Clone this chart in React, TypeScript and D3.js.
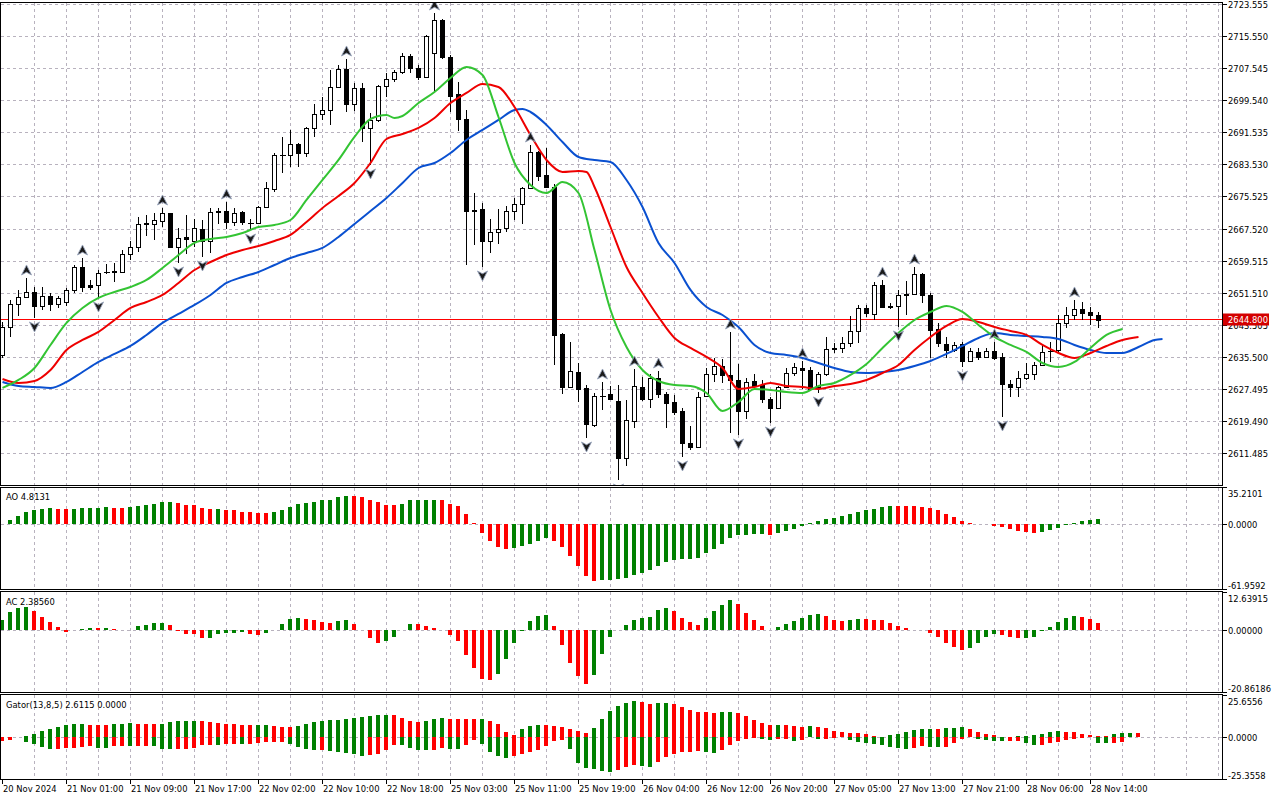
import React from "react"
import * as d3 from "d3"

// ---- price data (H1 bars) ----
const openP = [
  2636.05, 2643.05, 2648.79, 2650.54, 2651.79, 2648.29, 2650.79, 2648.79, 2649.29, 2652.29,
  2658.03, 2653.54, 2653.54, 2656.78, 2657.03, 2656.78, 2661.28, 2663.03, 2668.77, 2668.77,
  2669.52, 2671.52, 2663.03, 2665.53, 2664.53, 2667.52, 2664.53, 2671.77, 2672.02, 2669.27,
  2671.77, 2669.02, 2669.02, 2673.02, 2677.52, 2686.02, 2686.02, 2688.76, 2686.52, 2692.76,
  2696.26, 2697.26, 2703.0, 2707.5, 2698.76, 2702.75, 2692.76, 2694.76, 2703.25, 2705.0,
  2706.75, 2710.74, 2707.75, 2705.5, 2711.49, 2719.73, 2710.49, 2701.25, 2695.0, 2672.27,
  2672.52, 2664.53, 2666.77, 2667.77, 2672.02, 2673.77, 2677.77, 2686.77, 2681.02, 2678.02,
  2641.3, 2628.05, 2631.8, 2627.8, 2618.56, 2625.81, 2626.3, 2624.56, 2610.32, 2619.56,
  2628.05, 2625.06, 2630.3, 2626.3, 2624.31, 2622.06, 2614.06, 2613.07, 2625.81, 2631.3,
  2633.3, 2631.05, 2629.8, 2622.06, 2629.55, 2628.55, 2625.06, 2622.81, 2628.05, 2631.55,
  2632.8, 2632.3, 2628.05, 2631.3, 2637.55, 2637.8, 2639.05, 2642.05, 2647.79, 2646.29,
  2653.54, 2648.29, 2648.29, 2651.04, 2651.29, 2656.28, 2651.04, 2642.55, 2638.8, 2637.3,
  2638.8, 2634.55, 2636.8, 2635.55, 2637.05, 2635.55, 2628.8, 2628.05, 2630.3, 2631.3,
  2633.55, 2637.0, 2637.3, 2644.05, 2646.04, 2647.54, 2646.79, 2646.04,
]
const highP = [
  2644.3, 2649.79, 2652.29, 2655.29, 2653.04, 2653.04, 2651.54, 2650.79, 2652.79, 2658.53,
  2660.28, 2654.79, 2657.28, 2658.78, 2659.03, 2662.28, 2664.53, 2670.52, 2671.02, 2671.52,
  2672.77, 2671.6, 2667.77, 2671.02, 2670.02, 2669.77, 2672.77, 2672.77, 2674.27, 2672.77,
  2672.02, 2670.02, 2673.27, 2679.27, 2686.52, 2690.51, 2692.26, 2689.01, 2693.01, 2698.76,
  2700.5, 2707.25, 2708.5, 2710.0, 2704.0, 2704.0, 2696.5, 2703.5, 2706.5, 2707.25,
  2711.49, 2711.3, 2708.5, 2715.99, 2721.48, 2719.98, 2710.99, 2704.25, 2697.26, 2676.52,
  2674.02, 2670.02, 2672.52, 2673.27, 2675.27, 2678.02, 2688.51, 2686.9, 2687.76, 2678.77,
  2641.55, 2639.3, 2634.05, 2628.55, 2626.56, 2629.3, 2628.3, 2628.55, 2624.81, 2632.55,
  2630.55, 2631.3, 2632.05, 2626.81, 2626.05, 2622.81, 2618.31, 2626.81, 2632.8, 2635.3,
  2635.05, 2641.8, 2633.8, 2630.3, 2631.3, 2629.8, 2625.56, 2628.3, 2632.8, 2634.05,
  2634.55, 2633.05, 2631.8, 2640.55, 2639.05, 2640.55, 2645.79, 2648.54, 2648.6, 2654.29,
  2654.79, 2649.04, 2652.29, 2654.54, 2658.03, 2656.53, 2651.54, 2644.05, 2640.55, 2639.3,
  2639.3, 2637.8, 2637.8, 2637.8, 2639.3, 2636.55, 2629.8, 2632.05, 2634.05, 2634.3,
  2638.55, 2639.3, 2646.04, 2648.04, 2649.79, 2649.29, 2648.04, 2646.79,
]
const lowP = [
  2635.3, 2640.55, 2645.79, 2650.29, 2645.29, 2647.29, 2647.04, 2647.79, 2648.29, 2651.54,
  2651.79, 2652.29, 2650.29, 2656.3, 2654.29, 2656.53, 2659.78, 2661.78, 2665.78, 2664.78,
  2668.02, 2662.78, 2659.03, 2661.28, 2663.03, 2660.53, 2661.53, 2668.77, 2667.52, 2668.27,
  2668.52, 2667.27, 2668.77, 2672.77, 2676.77, 2681.52, 2683.02, 2683.02, 2685.52, 2690.51,
  2694.76, 2693.51, 2702.75, 2696.76, 2697.0, 2689.26, 2683.52, 2694.26, 2700.5, 2704.25,
  2706.25, 2706.5, 2704.75, 2705.4, 2701.75, 2709.99, 2696.76, 2692.0, 2658.53, 2663.53,
  2658.03, 2661.53, 2663.78, 2666.77, 2669.77, 2668.77, 2677.52, 2679.52, 2677.77, 2633.55,
  2626.3, 2627.8, 2624.31, 2615.31, 2618.06, 2622.31, 2625.0, 2604.82, 2608.32, 2617.81,
  2624.56, 2622.81, 2625.31, 2617.81, 2621.06, 2610.57, 2612.32, 2612.82, 2625.5, 2629.3,
  2629.05, 2616.56, 2616.06, 2620.06, 2628.05, 2624.06, 2619.06, 2622.56, 2627.8, 2630.8,
  2627.55, 2627.3, 2626.56, 2630.8, 2636.55, 2636.6, 2638.05, 2639.05, 2645.54, 2644.79,
  2647.79, 2647.6, 2643.05, 2646.04, 2651.0, 2649.04, 2635.3, 2638.05, 2635.3, 2636.8,
  2633.05, 2634.3, 2634.8, 2635.3, 2634.8, 2620.56, 2625.56, 2625.6, 2629.8, 2629.8,
  2633.3, 2634.3, 2636.8, 2642.8, 2644.8, 2644.79, 2643.55, 2642.8,
]
const closeP = [
  2643.05, 2648.79, 2650.54, 2651.79, 2648.29, 2650.79, 2648.79, 2650.29, 2652.29, 2658.03,
  2653.04, 2653.04, 2656.53, 2656.8, 2656.78, 2661.28, 2663.03, 2668.77, 2668.9, 2669.77,
  2671.52, 2663.03, 2665.28, 2665.03, 2667.77, 2664.53, 2671.77, 2672.02, 2669.27, 2671.52,
  2669.27, 2669.1, 2673.02, 2677.77, 2686.02, 2686.1, 2688.76, 2686.52, 2692.76, 2696.26,
  2697.26, 2703.0, 2707.5, 2698.76, 2702.75, 2692.76, 2694.76, 2703.25, 2705.0, 2706.75,
  2710.74, 2707.75, 2705.5, 2715.74, 2719.73, 2710.49, 2700.75, 2695.0, 2672.02, 2672.1,
  2664.53, 2666.77, 2667.52, 2672.02, 2673.77, 2677.77, 2686.77, 2680.77, 2678.02, 2641.05,
  2628.05, 2632.05, 2627.55, 2618.81, 2625.81, 2625.7, 2625.06, 2610.32, 2619.81, 2628.3,
  2625.06, 2630.3, 2626.3, 2624.06, 2621.81, 2614.06, 2613.07, 2625.56, 2631.3, 2633.3,
  2631.05, 2629.8, 2622.06, 2629.3, 2628.3, 2625.06, 2622.81, 2628.05, 2631.55, 2633.05,
  2632.3, 2627.55, 2631.3, 2637.55, 2637.8, 2639.05, 2642.05, 2647.79, 2646.54, 2653.54,
  2648.04, 2648.1, 2651.04, 2651.29, 2656.28, 2651.04, 2642.3, 2639.05, 2637.3, 2638.55,
  2634.55, 2637.05, 2635.55, 2637.05, 2635.3, 2628.8, 2628.05, 2630.3, 2631.3, 2633.55,
  2636.8, 2637.1, 2644.05, 2646.04, 2647.54, 2646.54, 2646.04, 2644.8,
]

// ---- alligator lines: [bar index, price] (lines run past the last bar by their shift) ----
const lipsPoints: [number, number][] = [
  [0, 2627.81], [2, 2629.81], [4, 2632.8], [6, 2638.55], [8, 2644.05], [10, 2647.79], [12, 2650.29],
  [14, 2651.79], [16, 2653.04], [18, 2654.79], [20, 2657.78], [22, 2661.03], [24, 2664.03], [26, 2665.03],
  [28, 2665.53], [30, 2666.53], [32, 2668.02], [34, 2668.52], [36, 2669.77], [38, 2674.77], [40, 2679.77],
  [42, 2684.77], [44, 2690.51], [46, 2695.0], [48, 2696.0], [49, 2695.25], [50, 2695.75], [52, 2699.0],
  [54, 2701.75], [56, 2705.25], [58, 2708.0], [60, 2706.0], [62, 2695.5], [64, 2684.01], [66, 2678.52],
  [68, 2676.52], [70, 2679.27], [72, 2676.52], [74, 2662.28], [76, 2647.29], [78, 2638.05], [80, 2632.3],
  [82, 2629.55], [84, 2628.55], [86, 2628.3], [88, 2626.56], [90, 2622.06], [92, 2624.31], [94, 2627.55],
  [96, 2627.31], [98, 2626.81], [100, 2626.56], [102, 2628.3], [104, 2629.06], [106, 2631.05], [108, 2633.8],
  [110, 2637.8], [112, 2641.55], [114, 2644.79], [116, 2646.79], [118, 2648.29], [120, 2646.79], [122, 2643.55],
  [124, 2640.55], [126, 2638.55], [128, 2636.8], [130, 2634.05], [132, 2633.05], [134, 2634.3], [136, 2637.8],
  [138, 2641.05], [140, 2642.55],
]
const teethPoints: [number, number][] = [
  [0, 2630.06], [2, 2629.06], [4, 2629.56], [6, 2632.3], [8, 2637.3], [10, 2639.8], [12, 2641.8],
  [14, 2644.79], [16, 2647.79], [18, 2649.29], [20, 2651.04], [22, 2654.04], [24, 2657.28], [26, 2659.28],
  [28, 2661.03], [30, 2662.28], [32, 2663.28], [34, 2664.53], [36, 2666.03], [38, 2669.27], [40, 2672.77],
  [42, 2675.77], [44, 2679.02], [46, 2684.01], [48, 2690.01], [50, 2691.26], [52, 2692.76], [54, 2695.25],
  [56, 2699.0], [58, 2701.5], [60, 2703.75], [62, 2703.0], [64, 2698.0], [66, 2691.01], [68, 2684.76],
  [70, 2681.77], [72, 2682.02], [73, 2681.77], [74, 2678.02], [76, 2668.02], [78, 2658.03], [80, 2651.54],
  [82, 2645.54], [84, 2640.3], [86, 2637.8], [88, 2635.55], [90, 2632.8], [92, 2627.55], [94, 2628.06],
  [96, 2629.06], [98, 2628.3], [100, 2628.06], [102, 2627.55], [104, 2628.3], [106, 2628.8], [108, 2629.8],
  [110, 2631.55], [112, 2633.55], [114, 2637.3], [116, 2640.55], [118, 2643.3], [120, 2645.04], [122, 2644.29],
  [124, 2643.05], [126, 2642.05], [128, 2641.05], [130, 2638.55], [132, 2636.55], [134, 2635.3], [136, 2636.55],
  [138, 2638.3], [140, 2639.8], [142, 2640.55],
]
const jawPoints: [number, number][] = [
  [0, 2629.31], [2, 2628.3], [4, 2628.06], [6, 2627.81], [8, 2629.31], [10, 2631.8], [12, 2634.3],
  [14, 2636.3], [16, 2638.3], [18, 2641.05], [20, 2644.05], [22, 2646.29], [24, 2648.54], [26, 2651.04],
  [28, 2654.04], [30, 2655.53], [32, 2656.78], [34, 2658.53], [36, 2660.28], [38, 2661.53], [40, 2662.78],
  [42, 2665.53], [44, 2668.77], [46, 2672.02], [48, 2675.27], [50, 2679.02], [52, 2682.76], [54, 2684.01],
  [56, 2686.51], [58, 2689.76], [60, 2692.26], [62, 2694.76], [64, 2697.25], [65, 2697.5], [66, 2696.75],
  [68, 2693.51], [70, 2689.26], [72, 2685.52], [74, 2684.76], [76, 2684.26], [78, 2679.77], [80, 2673.02],
  [82, 2664.03], [84, 2659.03], [86, 2652.29], [88, 2648.04], [90, 2646.04], [92, 2643.05], [94, 2638.55],
  [96, 2636.55], [98, 2636.05], [100, 2635.3], [102, 2634.05], [104, 2632.8], [106, 2631.8], [108, 2631.55],
  [110, 2631.8], [112, 2632.3], [114, 2633.3], [116, 2634.55], [118, 2636.3], [120, 2638.3], [122, 2640.3],
  [124, 2641.55], [126, 2641.05], [128, 2640.8], [130, 2640.55], [132, 2640.05], [134, 2638.55], [136, 2637.3],
  [138, 2636.55], [140, 2636.55], [142, 2638.05], [144, 2639.8], [145, 2640.05],
]

// fractal bar indices
const upFractals = [3, 10, 20, 28, 43, 54, 66, 75, 79, 82, 91, 100, 110, 114, 124, 134]
const downFractals = [4, 12, 22, 25, 31, 46, 60, 73, 77, 85, 92, 96, 102, 112, 120, 125]

// ---- oscillators ----
const aoValues: (number | null)[] = [
  null, 4.15, 7.98, 11.81, 14.04, 15.0, 15.64, 14.68, 14.6, 15.0,
  15.64, 15.7, 15.95, 16.6, 15.64, 15.6, 16.27, 17.87, 18.5, 19.46,
  21.38, 21.45, 20.42, 18.5, 18.45, 15.64, 14.68, 14.72, 14.04, 13.4,
  12.12, 11.81, 11.17, 11.1, 12.12, 13.72, 16.59, 18.83, 20.1, 21.38,
  22.65, 23.29, 25.85, 26.8, 26.75, 25.85, 22.65, 21.4, 18.5, 18.45,
  19.46, 22.65, 22.7, 22.75, 22.8, 22.7, 19.46, 17.55, 9.89, 0.96,
  -7.98, -15.64, -21.38, -23.29, -22.34, -20.74, -18.51, -15.64, -13.08, -15.64,
  -21.7, -29.99, -39.57, -49.14, -53.92, -53.29, -52.97, -51.69, -51.05, -48.5,
  -46.27, -43.4, -39.57, -35.74, -33.82, -32.87, -32.8, -31.9, -27.44, -23.29,
  -18.51, -12.76, -10.21, -10.15, -8.93, -8.9, -10.21, -7.98, -6.06, -4.15,
  -1.6, 1.28, 3.19, 5.1, 6.06, 7.98, 9.89, 11.81, 13.72, 14.68,
  16.59, 17.55, 17.5, 17.45, 17.4, 16.59, 15.64, 13.72, 9.89, 7.02,
  3.19, 1.28, 0.32, 0.05, -1.28, -2.23, -4.15, -6.06, -7.02, -7.98,
  -7.02, -5.1, -3.19, -0.96, 0.96, 3.19, 4.15, 4.81,
]
const acValues = [
  3.5, 5.88, 7.23, 7.57, 6.33, 4.52, 2.6, 0.9, -0.56, 0.11,
  0.45, 0.79, 0.68, 0.79, 0.23, 0.11, 0.15, 1.47, 1.81, 2.49,
  2.52, 1.81, -0.23, -1.24, -1.47, -2.6, -2.55, -1.47, -1.13, -1.02,
  -0.79, -1.47, -1.81, -1.13, 0.02, 2.15, 3.84, 4.18, 3.73, 3.5,
  2.6, 2.26, 3.16, 3.2, 2.15, -0.11, -2.82, -4.18, -3.84, -2.49,
  -0.11, 2.15, 2.1, 1.47, 0.79, -0.11, -1.81, -3.62, -8.36, -12.66,
  -16.38, -16.72, -14.69, -9.6, -4.18, -0.45, 3.16, 4.86, 5.2, 1.47,
  -4.86, -10.96, -15.37, -18.08, -15.14, -7.91, -2.49, 0.11, 1.81, 3.5,
  4.18, 4.52, 6.55, 7.23, 6.21, 4.18, 2.6, 1.81, 4.18, 6.21,
  8.25, 9.94, 8.59, 5.54, 3.5, 1.47, -0.11, 1.13, 2.15, 3.16,
  4.18, 5.2, 5.25, 4.86, 3.5, 3.16, 3.2, 3.84, 3.8, 3.5,
  3.45, 2.49, 1.47, 0.68, 0.11, -0.11, -1.13, -2.49, -4.18, -5.54,
  -6.55, -5.88, -4.18, -2.49, -1.47, -1.81, -2.49, -2.82, -2.78, -2.49,
  -0.45, 1.13, 2.82, 4.18, 4.86, 4.52, 3.84, 2.39,
]
const gatorUpper = [
  0, 0, 0.2, 1.02, 2.25, 3.89, 5.11, 6.34, 7.77, 8.18,
  8.2, 7.57, 7.55, 7.5, 8.18, 8.2, 8.79, 8.18, 8.15, 8.1,
  8.2, 9.41, 10.02, 10.05, 10.1, 10.0, 9.41, 8.79, 8.18, 8.15,
  7.57, 7.55, 7.6, 7.65, 6.95, 6.34, 6.3, 6.95, 8.18, 9.41,
  10.02, 10.63, 10.7, 11.25, 11.86, 12.47, 13.09, 13.7, 13.75, 13.7,
  11.86, 10.02, 9.41, 10.02, 11.25, 11.86, 11.25, 11.2, 11.15, 11.1,
  11.15, 10.02, 8.18, 3.27, 1.64, 5.11, 6.95, 7.57, 7.5, 6.95,
  6.34, 5.11, 3.89, 2.66, 5.73, 11.25, 16.16, 19.2, 20.86, 21.75,
  21.68, 20.25, 21.06, 21.1, 20.45, 18.6, 16.77, 15.54, 15.5, 14.93,
  15.54, 15.6, 14.93, 13.09, 10.63, 8.79, 7.57, 7.6, 7.55, 6.95,
  6.34, 6.95, 6.34, 5.73, 3.89, 3.27, 2.66, 2.6, 2.04, 0.82,
  0.3, 1.43, 2.04, 3.27, 4.5, 5.11, 5.15, 5.1, 5.73, 5.78,
  6.34, 5.11, 3.27, 2.04, 1.43, 0.5, 0.2, 0.6, 1.0, 1.5,
  2.04, 3.27, 3.88, 3.27, 3.2, 2.04, 1.43, 1.0, 0.8, 2.04,
  2.62, 2.66, 2.61,
]
const gatorLower = [
  -2.25, -1.43, -0.2, -2.66, -4.29, -5.73, -6.95, -6.9, -6.34, -6.13,
  -6.1, -5.11, -6.34, -6.38, -5.11, -5.08, -5.15, -5.1, -5.05, -5.1,
  -6.95, -7.0, -6.95, -6.9, -6.34, -4.5, -4.45, -4.5, -3.89, -3.85,
  -3.9, -3.85, -3.27, -2.66, -2.6, -2.55, -3.89, -5.73, -6.95, -7.57,
  -7.5, -8.18, -8.79, -9.41, -10.02, -11.25, -10.63, -9.8, -7.57, -4.5,
  -4.55, -6.34, -7.57, -7.6, -7.55, -6.34, -6.95, -7.0, -4.5, -1.43,
  -3.89, -8.79, -11.25, -12.47, -11.25, -10.02, -8.79, -7.57, -5.11, -2.04,
  -1.43, -6.95, -15.54, -18.6, -19.2, -20.45, -20.86, -19.6, -17.9, -17.0,
  -17.4, -18.0, -14.93, -11.86, -10.02, -8.79, -8.7, -8.18, -8.79, -9.41,
  -7.57, -4.5, -2.04, -0.82, -0.4, -0.82, -1.43, -0.82, -0.8, -2.04,
  -1.43, -0.2, -0.82, -0.8, -0.4, -0.2, -1.43, -2.66, -3.27, -3.89,
  -4.5, -5.73, -6.34, -6.95, -6.34, -5.11, -5.73, -5.78, -5.7, -3.27,
  -0.82, -0.3, -0.82, -1.43, -2.04, -2.1, -2.04, -2.0, -3.27, -4.5,
  -4.45, -3.27, -2.66, -1.43, -0.82, -0.5, -0.3, -3.27, -3.3, -3.27,
  -2.66,
]

// ---- axis labels ----
const priceTicks = [
  "2723.555", "2715.550", "2707.545", "2699.540", "2691.535", "2683.530", "2675.525", "2667.520",
  "2659.515", "2651.510", "2643.505", "2635.500", "2627.495", "2619.490", "2611.485",
]
const timeLabels = [
  "20 Nov 2024", "21 Nov 01:00", "21 Nov 09:00", "21 Nov 17:00", "22 Nov 02:00", "22 Nov 10:00",
  "22 Nov 18:00", "25 Nov 03:00", "25 Nov 11:00", "25 Nov 19:00", "26 Nov 04:00", "26 Nov 12:00",
  "26 Nov 20:00", "27 Nov 05:00", "27 Nov 13:00", "27 Nov 21:00", "28 Nov 06:00", "28 Nov 14:00",
]
const timeLabelBars = [0, 8, 16, 24, 32, 40, 48, 56, 64, 72, 80, 88, 96, 104, 112, 120, 128, 136]
const aoTicks = ["35.2101", "0.0000", "-61.9592"]
const acTicks = ["12.63915", "0.00000", "-20.86186"]
const gatorTicks = ["25.6556", "0.0000", "-25.3558"]
const lastPrice = 2644.8

const FONT = "'DejaVu Sans', Verdana, sans-serif"
const GRID = "#b8b2be"
const GREEN = "#008000"
const RED = "#ff0000"
const PLOT_R = 1222.5

export default function App() {
  const xBar = d3.scaleLinear().domain([0, 1]).range([2.5, 10.5])
  const yMain = d3.scaleLinear().domain([2611.485, 2723.555]).range([453.3, 4.7])
  const yAO = d3.scaleLinear().domain([-61.9592, 35.2101]).range([589.3, 487.3])
  const yAC = d3.scaleLinear().domain([-20.86186, 12.63915]).range([692.3, 592.3])
  const yGator = d3.scaleLinear().domain([-25.3558, 25.6556]).range([779.3, 695.0])

  const panels = [
    { top: 2.5, bottom: 485.5 },
    { top: 487.5, bottom: 589.5 },
    { top: 591.5, bottom: 692.5 },
    { top: 694.5, bottom: 779.5 },
  ]
  const vGridBars = d3.range(4, 153, 4)
  const crisp = (v: number) => Math.round(v - 0.5) + 0.5
  const priceY = crisp(yMain(lastPrice))

  const lineGen = d3
    .line<[number, number]>()
    .x((d) => xBar(d[0]))
    .y((d) => yMain(d[1]))
    .curve(d3.curveMonotoneX)

  // histogram bars; colour by rising/falling value (or magnitude for the lower gator)
  const histogram = (
    vals: (number | null)[],
    y: d3.ScaleLinear<number, number>,
    key: string,
    byMagnitude: boolean,
    firstUp: boolean
  ) =>
    vals.map((v, i) => {
      if (v == null) return null
      const prev = i > 0 ? vals[i - 1] : null
      let up = firstUp
      if (prev != null) up = byMagnitude ? Math.abs(v) > Math.abs(prev) : v > prev
      const y0 = y(0)
      const y1 = y(v)
      const h = Math.abs(y1 - y0)
      if (h < 0.5) return null
      return (
        <rect
          key={`${key}-${i}`}
          x={xBar(i) - 2.5}
          y={Math.min(y0, y1)}
          width={4}
          height={h}
          fill={up ? GREEN : RED}
        />
      )
    })

  const arrowUp = "M0,-5 L5,5 L0,2.2 L-5,5 Z"
  const arrowDown = "M0,5 L5,-5 L0,-2.2 L-5,-5 Z"

  const axisText = { fontFamily: FONT, fontSize: 8.4, fill: "#000" }

  return (
    <div style={{ width: 1280, height: 800 }}>
      <style>{"body{margin:0;background:#fff}"}</style>
      <svg width={1280} height={800} style={{ display: "block" }}>
        <defs>
          <clipPath id="clipMain">
            <rect x={1} y={3} width={1221} height={482} />
          </clipPath>
        </defs>
        <rect width={1280} height={800} fill="#fff" />

        {/* grids */}
        <g stroke={GRID} strokeDasharray="3,3" strokeWidth={1} shapeRendering="crispEdges">
          {panels.map((p, pi) =>
            vGridBars
              .filter((b) => xBar(b) < PLOT_R)
              .map((b) => (
                <line key={`vg${pi}-${b}`} x1={xBar(b)} x2={xBar(b)} y1={p.top} y2={p.bottom} />
              ))
          )}
          {priceTicks.map((t) => (
            <line key={`hg${t}`} x1={1} x2={PLOT_R} y1={crisp(yMain(+t))} y2={crisp(yMain(+t))} />
          ))}
          <line x1={1} x2={PLOT_R} y1={crisp(yAO(0))} y2={crisp(yAO(0))} />
          <line x1={1} x2={PLOT_R} y1={crisp(yAC(0))} y2={crisp(yAC(0))} />
          <line x1={1} x2={PLOT_R} y1={crisp(yGator(0))} y2={crisp(yGator(0))} />
        </g>

        {/* current price line */}
        <line x1={1} x2={PLOT_R} y1={priceY} y2={priceY} stroke="#ff0000" strokeWidth={1} />

        {/* main panel */}
        <g clipPath="url(#clipMain)">
          <g shapeRendering="crispEdges">
            {openP.map((o, i) => {
              const c = closeP[i]
              const cx = xBar(i)
              const yo = Math.round(yMain(o))
              const yc = Math.round(yMain(c))
              const bull = c >= o
              const top = Math.min(yo, yc)
              const h = Math.abs(yo - yc)
              return (
                <g key={`c${i}`}>
                  <line
                    x1={cx}
                    x2={cx}
                    y1={Math.round(yMain(highP[i]))}
                    y2={Math.round(yMain(lowP[i]))}
                    stroke="#000"
                  />
                  {h < 1 ? (
                    <line x1={cx - 3} x2={cx + 3} y1={top + 0.5} y2={top + 0.5} stroke="#000" />
                  ) : (
                    <rect
                      x={cx - 2}
                      y={top + 0.5}
                      width={4}
                      height={h}
                      fill={bull ? "#fff" : "#000"}
                      stroke="#000"
                    />
                  )}
                </g>
              )
            })}
          </g>
          <path d={lineGen(jawPoints) || ""} fill="none" stroke="#0a50d0" strokeWidth={2} />
          <path d={lineGen(teethPoints) || ""} fill="none" stroke="#ee0000" strokeWidth={2} />
          <path d={lineGen(lipsPoints) || ""} fill="none" stroke="#33c433" strokeWidth={2} />
          {upFractals.map((b) => (
            <path
              key={`fu${b}`}
              d={arrowUp}
              transform={`translate(${xBar(b)},${yMain(highP[b]) - 8})`}
              fill="#1a1a1a"
              stroke="#9aa6bd"
              strokeWidth={0.9}
            />
          ))}
          {downFractals.map((b) => (
            <path
              key={`fd${b}`}
              d={arrowDown}
              transform={`translate(${xBar(b)},${yMain(lowP[b]) + 9})`}
              fill="#1a1a1a"
              stroke="#9aa6bd"
              strokeWidth={0.9}
            />
          ))}
        </g>

        {/* indicator histograms */}
        <g shapeRendering="crispEdges">
          {histogram(aoValues, yAO, "ao", false, true)}
          {histogram(acValues, yAC, "ac", false, true)}
          {histogram(gatorUpper, yGator, "gu", false, true)}
          {histogram(gatorLower, yGator, "gl", true, false)}
        </g>

        {/* panel borders */}
        <g fill="none" stroke="#000" strokeWidth={1} shapeRendering="crispEdges">
          {panels.map((p, i) => (
            <rect key={`pb${i}`} x={0.5} y={p.top} width={PLOT_R - 0.5} height={p.bottom - p.top} />
          ))}
        </g>

        {/* panel titles */}
        <g style={axisText}>
          <text x={6} y={500}>AO 4.8131</text>
          <text x={6} y={604.5}>AC 2.38560</text>
          <text x={6} y={707.5}>Gator(13,8,5) 2.6115 0.0000</text>
        </g>

        {/* price axis */}
        <g style={axisText}>
          {priceTicks.map((t) => {
            const y = crisp(yMain(+t))
            return (
              <g key={`pt${t}`}>
                <line x1={PLOT_R} x2={PLOT_R + 4} y1={y} y2={y} stroke="#000" shapeRendering="crispEdges" />
                <text x={1228} y={y + 3.3}>{t}</text>
              </g>
            )
          })}
          {[
            { ticks: aoTicks, y: yAO },
            { ticks: acTicks, y: yAC },
            { ticks: gatorTicks, y: yGator },
          ].map((s, si) =>
            s.ticks.map((t, ti) => {
              const y = crisp(s.y(+t))
              const dy = ti === 0 ? 9 : ti === 2 ? -1 : 3.3
              return (
                <g key={`it${si}-${t}`}>
                  <line x1={PLOT_R} x2={PLOT_R + 4} y1={y} y2={y} stroke="#000" shapeRendering="crispEdges" />
                  <text x={1228} y={y + dy}>{t}</text>
                </g>
              )
            })
          )}
          <rect x={1223} y={priceY - 6} width={46} height={12} fill="#d40000" />
          <text x={1228} y={priceY + 3.3} fill="#fff">
            {lastPrice.toFixed(3)}
          </text>
        </g>

        {/* time axis */}
        <g style={axisText}>
          {timeLabels.map((t, i) => {
            const x = xBar(timeLabelBars[i])
            return (
              <g key={`tl${t}`}>
                <line x1={x} x2={x} y1={779.5} y2={784} stroke="#000" shapeRendering="crispEdges" />
                <text x={x + 0.5} y={791.5}>{t}</text>
              </g>
            )
          })}
        </g>
      </svg>
    </div>
  )
}
